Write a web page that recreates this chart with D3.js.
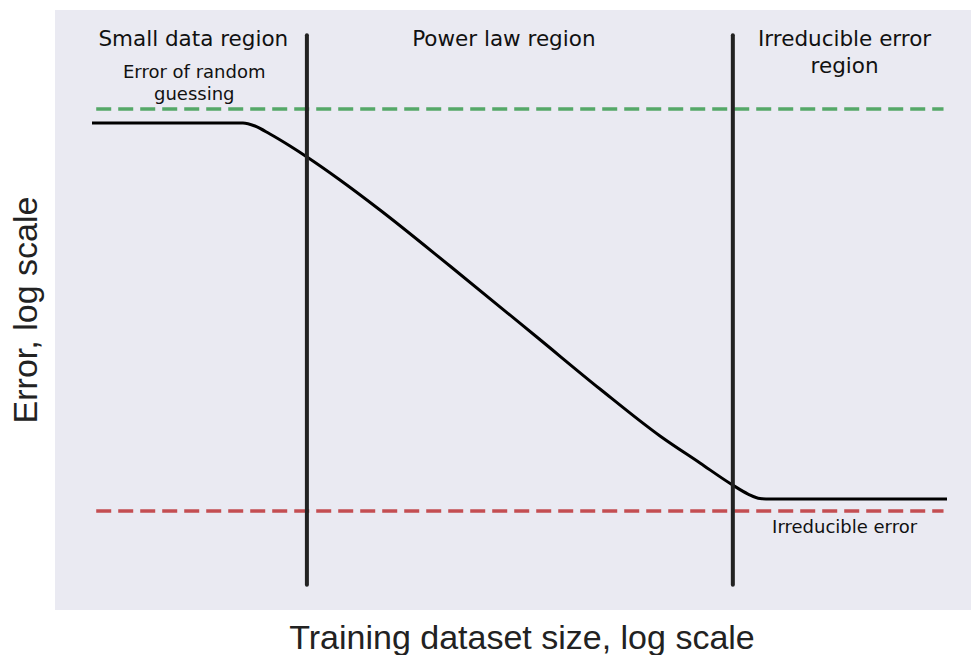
<!DOCTYPE html>
<html>
<head>
<meta charset="utf-8">
<script src="https://cdn.jsdelivr.net/npm/d3@7"></script>
<style>
  body { margin: 0; background: #fff; }
</style>
</head>
<body>
<div id="chart"></div>
<script>
// curve in log-log units (x: log dataset size, y: log error)
const curveX = [0.404, 2.052, 2.183, 2.347, 2.566, 2.751, 3.111, 3.548, 4.312, 5.273, 5.950, 6.605, 7.041, 7.380, 7.566, 7.697, 7.806, 9.738];
const curveY = [8.117, 8.117, 8.067, 7.933, 7.733, 7.550, 7.167, 6.667, 5.733, 4.533, 3.683, 2.900, 2.450, 2.100, 1.933, 1.858, 1.850, 1.850];

// reference lines
const randomGuessY = 8.35;
const irreducibleY = 1.65;
const hLineRange = [0.45, 9.70];
const regionBounds = [2.75, 7.40];
const vLineRange = [0.42, 9.58];

const regionLabels = [
    { x: 1.51, y: 9.40, lines: ["Small data region"] },
    { x: 4.90, y: 9.40, lines: ["Power law region"] },
    { x: 8.62, y: 9.40, lines: ["Irreducible error", "region"] }
];
const noteLabels = [
    { x: 1.52, y: 8.87, lines: ["Error of random", "guessing"] },
    { x: 8.62, y: 1.28, lines: ["Irreducible error"] }
];

const width = 971;
const height = 655;
const margin = { top: 10, right: 0, bottom: 45, left: 55 };

const svg = d3.select("#chart")
    .append("svg")
    .attr("width", width)
    .attr("height", height);

const xScale = d3.scaleLinear()
    .domain([0, 10])
    .range([margin.left, width - margin.right]);

const yScale = d3.scaleLinear()
    .domain([0, 10])
    .range([height - margin.bottom, margin.top]);

//background
svg.append("rect")
    .attr("x", margin.left)
    .attr("y", margin.top)
    .attr("width", width - margin.left - margin.right)
    .attr("height", height - margin.top - margin.bottom)
    .attr("fill", "#EAEAF2");

//dashed lines
const hLines = [
    { y: randomGuessY, color: "#55A868" },
    { y: irreducibleY, color: "#C44E52" }
];
svg.selectAll(".hline")
    .data(hLines)
    .enter()
    .append("line")
    .attr("class", "hline")
    .attr("x1", xScale(hLineRange[0]))
    .attr("x2", xScale(hLineRange[1]))
    .attr("y1", function(d) { return yScale(d.y); })
    .attr("y2", function(d) { return yScale(d.y); })
    .attr("stroke", function(d) { return d.color; })
    .attr("stroke-width", 3.5)
    .attr("stroke-dasharray", "15,7");

//main curve
const points = curveX.map(function(x, i) { return [x, curveY[i]]; });
const line = d3.line()
    .x(function(d) { return xScale(d[0]); })
    .y(function(d) { return yScale(d[1]); })
    .curve(d3.curveMonotoneX);

svg.append("path")
    .datum(points)
    .attr("d", line)
    .attr("fill", "none")
    .attr("stroke", "#000")
    .attr("stroke-width", 3);

//region boundaries
svg.selectAll(".vline")
    .data(regionBounds)
    .enter()
    .append("line")
    .attr("class", "vline")
    .attr("x1", function(d) { return xScale(d); })
    .attr("x2", function(d) { return xScale(d); })
    .attr("y1", yScale(vLineRange[1]))
    .attr("y2", yScale(vLineRange[0]))
    .attr("stroke", "#222")
    .attr("stroke-width", 4)
    .attr("stroke-linecap", "round");

//labels
function addLabels(list, size, lineHeight) {
    list.forEach(function(d) {
        const t = svg.append("text")
            .attr("x", xScale(d.x))
            .attr("y", yScale(d.y))
            .attr("text-anchor", "middle")
            .attr("font-family", "DejaVu Sans, sans-serif")
            .attr("font-size", size + "px")
            .attr("fill", "#111");
        d.lines.forEach(function(s, i) {
            t.append("tspan")
                .attr("x", xScale(d.x))
                .attr("dy", i === 0 ? 0 : lineHeight)
                .text(s);
        });
    });
}
addLabels(regionLabels, 21.5, 27);
addLabels(noteLabels, 18, 22);

//axis labels
svg.append("text")
    .attr("x", 522)
    .attr("y", 649)
    .attr("text-anchor", "middle")
    .attr("font-family", "Liberation Sans, Arial, sans-serif")
    .attr("font-size", "34px")
    .attr("fill", "#222")
    .text("Training dataset size, log scale");

svg.append("text")
    .attr("transform", "translate(37," + 310 + ") rotate(-90)")
    .attr("text-anchor", "middle")
    .attr("font-family", "Liberation Sans, Arial, sans-serif")
    .attr("font-size", "34px")
    .attr("fill", "#222")
    .text("Error, log scale");
</script>
</body>
</html>
